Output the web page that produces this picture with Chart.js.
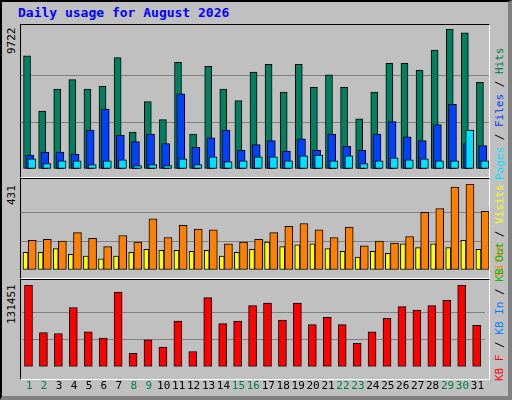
<!DOCTYPE html>
<html><head><meta charset="utf-8">
<script src="https://cdn.jsdelivr.net/npm/chart.js@4"></script>
<style>
body{margin:0;background:#fff;}
#wrap{position:relative;width:512px;height:400px;background:#c0c0c0;box-sizing:border-box;border-left:2px solid #000;border-top:2px solid #000;border-right:4px solid #808080;border-bottom:4px solid #808080;font-family:"DejaVu Sans Mono",monospace;}
.panel{position:absolute;left:18px;width:470px;box-sizing:border-box;border-left:1px solid #000;border-top:1px solid #000;border-right:1px solid #fff;border-bottom:1px solid #fff;}
canvas{position:absolute;left:0;top:0;}
#title{position:absolute;left:16px;top:3px;color:#0000ff;font-weight:bold;font-size:13px;}
.vl{position:absolute;transform-origin:0 0;transform:rotate(-90deg);white-space:nowrap;font-size:11px;}
</style></head><body>
<div id="wrap">
<div id="title">Daily usage for August 2026</div>
<div class="panel" style="top:22px;height:154px"><canvas id="c1"></canvas></div>
<div class="panel" style="top:176px;height:101px"><canvas id="c2"></canvas></div>
<div class="panel" style="top:277px;height:101px"></div>
<canvas id="c3" style="left:19px;top:278px"></canvas>
<div class="vl" style="left:3px;top:52px;color:#000">9722</div>
<div class="vl" style="left:3px;top:203px;color:#000">431</div>
<div class="vl" style="left:3px;top:322px;color:#000">131451</div>
<div class="vl" style="left:491px;top:178px"><span style="color:#00e0ff">Pages</span> / <span style="color:#0040ff">Files</span> / <span style="color:#008040">Hits</span></div>
<div class="vl" style="left:491px;top:275px"><span style="color:#ff8000">Sites</span> / <span style="color:#ffff00">Visits</span></div>
<div class="vl" style="left:491px;top:379px"><span style="color:#ff0000">KB F</span> / <span style="color:#0080ff">KB In</span> / <span style="color:#00c000">KB Out</span></div>
</div>
<script>
const days = Array.from({length: 31}, (_, i) => i + 1);
const weekend = [1, 2, 8, 9, 15, 16, 22, 23, 29, 30];
const hits = [7866,4021,5546,6209,5546,5745,7733,2563,4684,3425,7402,2430,7137,5546,4750,6739,7269,5347,7269,5678,6540,5678,3491,5347,7336,7336,6872,8264,9722,9457,6010];
const files = [972,1171,1171,1038,2696,4154,2364,1900,2430,1768,5215,1502,2165,2696,1304,1701,1967,1237,2099,1304,2430,1569,1304,2430,3292,2232,1967,3093,4485,1768,1635];
const pages = [707,376,575,575,309,575,641,243,309,243,707,309,840,508,575,840,840,575,906,972,575,906,376,575,773,641,707,575,575,2696,575];
const sites = [149,154,145,187,159,117,173,140,257,163,224,205,201,131,140,154,187,219,233,201,163,215,121,145,135,168,289,308,415,431,294];
const visits = [89,89,107,79,70,56,70,89,103,98,98,93,98,70,89,103,140,117,126,131,107,93,65,93,84,131,112,131,112,149,103];
const kbF = [131451,54891,53447,95337,56336,46224,119894,21668,43335,31779,73670,24557,111227,69336,73670,98226,102560,75114,102560,67892,79448,67892,37557,56336,78003,96782,91004,98226,106893,131451,66447];
const maxTop = 9722, maxMid = 431, maxBot = 131451;

const pts = (arr, off) => arr.map((v, i) => ({x: days[i] + off, y: v}));
const ds = (arr, off, color, w, order) => ({data: pts(arr, off), backgroundColor: color, borderColor: '#000', borderWidth: 1, borderSkipped: false, barThickness: w, order: order, grouped: false});

function opts(max, showX, topPad) {
  return {
    responsive: false, animation: false,
    layout: {padding: {top: topPad}},
    plugins: {legend: {display: false}, tooltip: {enabled: false}},
    scales: {
      x: {type: 'linear', offset: false, min: 0.5, max: 31.5, grid: {display: false}, border: {display: false},
          afterBuildTicks: s => { s.ticks = days.map(d => ({value: d})); },
          ticks: {display: showX, maxRotation: 0, autoSkip: false, padding: 5,
                  font: {family: 'DejaVu Sans Mono', size: 11},
                  color: c => weekend.includes(c.tick.value) ? '#008040' : '#000'}},
      y: {min: 0, max: max, border: {display: false},
          afterBuildTicks: s => { s.ticks = [0, max / 3, max * 2 / 3, max].map(v => ({value: v})); },
          ticks: {display: false}, grid: {color: c => (c.tick.value > 0 && c.tick.value < max) ? '#808080' : 'rgba(0,0,0,0)', lineWidth: 1, drawTicks: false}}
    }
  };
}

const c1 = document.getElementById('c1'); c1.width = 468; c1.height = 152;
new Chart(c1, {type: 'bar', data: {datasets: [
  ds(hits, -0.1, '#008060', 7, 3),
  ds(files, 0.08, '#0040ff', 8, 2),
  ds(pages, 0.22, '#00e0ff', 8, 1)
]}, options: opts(maxTop, false, 4)});

const c2 = document.getElementById('c2'); c2.width = 468; c2.height = 99;
new Chart(c2, {type: 'bar', data: {datasets: [
  ds(sites, 0.24, '#ff8000', 8, 2),
  ds(visits, -0.2, '#ffff00', 5, 1)
]}, options: opts(maxMid, false, 5)});

const c3 = document.getElementById('c3'); c3.width = 468; c3.height = 118;
new Chart(c3, {type: 'bar', data: {datasets: [
  ds(kbF, -0.05, '#ff0000', 8, 1)
]}, options: opts(maxBot, true, 5)});
</script>
</body></html>
